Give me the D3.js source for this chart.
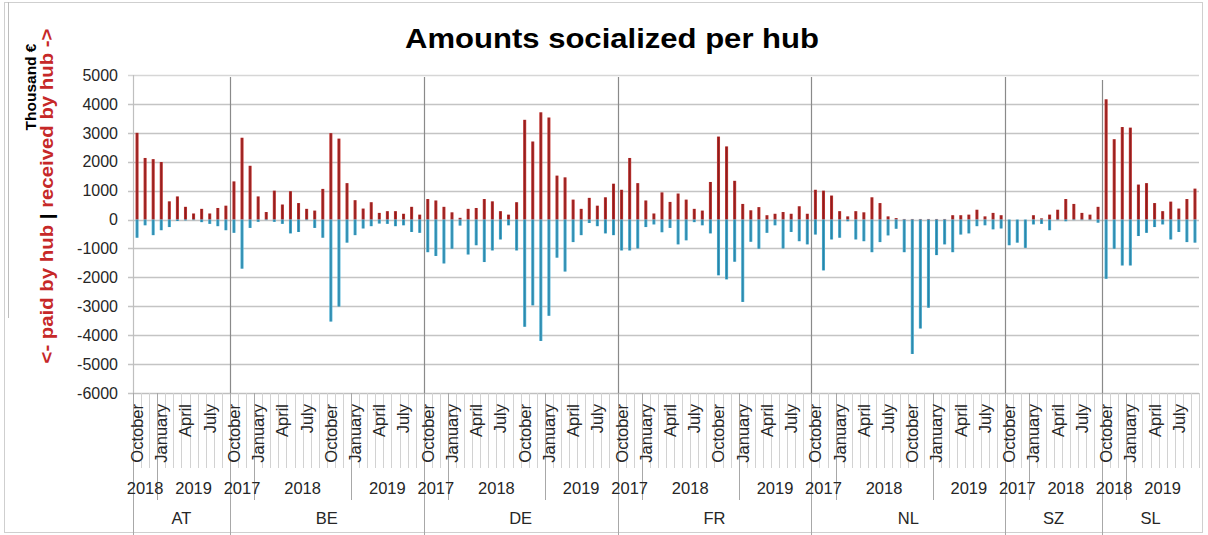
<!DOCTYPE html>
<html><head><meta charset="utf-8">
<script src="https://cdn.jsdelivr.net/npm/d3@7"></script>
<style>
body{margin:0;background:#fff;}
svg{display:block;font-family:"Liberation Sans",Arial,sans-serif;}
</style>
</head><body><svg id="chart" width="1208" height="535"></svg>
<script>
// ---------- DATA ----------
const hubs = ["AT","BE","DE","FR","NL","SZ","SL"];
const hubMonthCount = [12,24,24,24,24,12,12];
const hubStartYear = [2018,2017,2017,2017,2017,2017,2018];
const hubStartMonth = 9; // every hub starts in October
const monthNames = ["January","February","March","April","May","June","July","August","September","October","November","December"];
const monthLabelEvery = 3;
const yTicks = [5000,4000,3000,2000,1000,0,-1000,-2000,-3000,-4000,-5000,-6000];

// received by hub (positive), thousand €
const receivedAT = [3000,2130,2090,1990,630,800,440,210,370,210,400,480];
const receivedBE = [1320,2830,1860,800,260,1000,520,980,570,370,310,1060,2990,2800,1260,670,380,600,230,290,290,200,440,170];
const receivedDE = [710,660,440,250,60,370,400,710,630,290,170,600,3450,2700,3710,3530,1520,1460,690,370,750,480,770,1240];
const receivedFR = [1030,2130,1260,660,210,940,610,900,690,370,310,1300,2870,2530,1340,540,320,430,150,200,260,200,460,200];
const receivedNL = [1030,1000,830,290,110,290,250,770,570,110,50,20,20,20,20,20,20,150,150,170,340,110,230,150];
const receivedSZ = [0,0,0,150,40,170,340,710,540,230,170,440];
const receivedSL = [4160,2780,3200,3180,1210,1260,570,290,620,380,710,1070];

// paid by hub (negative), thousand €
const paidAT = [-630,-200,-540,-370,-260,-50,-30,-20,-90,-150,-230,-370];
const paidBE = [-460,-1700,-290,-80,-20,-80,-150,-480,-430,-20,-290,-630,-3530,-3010,-800,-540,-310,-230,-140,-150,-230,-200,-430,-460];
const paidDE = [-1130,-1260,-1520,-1010,-210,-1210,-890,-1470,-1070,-690,-200,-1070,-3710,-2970,-4200,-3330,-1320,-1800,-780,-540,-120,-230,-480,-540];
const paidFR = [-1070,-1070,-1000,-260,-170,-440,-290,-860,-720,-90,-200,-480,-1930,-2070,-1460,-2850,-770,-1010,-460,-200,-1000,-430,-750,-860];
const paidNL = [-520,-1760,-690,-630,-60,-690,-750,-1130,-780,-550,-320,-1130,-4650,-3770,-3050,-1230,-860,-1130,-520,-480,-230,-200,-340,-310];
const paidSZ = [-890,-800,-980,-170,-150,-370,-20,-60,-20,-20,-20,-110];
const paidSL = [-2050,-1010,-1590,-1590,-570,-460,-260,-170,-690,-430,-780,-800];

const receivedByHub = [receivedAT,receivedBE,receivedDE,receivedFR,receivedNL,receivedSZ,receivedSL];
const paidByHub = [paidAT,paidBE,paidDE,paidFR,paidNL,paidSZ,paidSL];

// ---------- BUILD ROWS ----------
const rows = [];
hubs.forEach((h, hi) => {
  for (let i = 0; i < hubMonthCount[hi]; i++) {
    const m = (hubStartMonth + i) % 12;
    const yr = hubStartYear[hi] + Math.floor((hubStartMonth + i) / 12);
    rows.push({id: h + "-" + i, hub: h, hubIndex: hi, idx: i, month: m, year: yr,
               received: receivedByHub[hi][i], paid: paidByHub[hi][i]});
  }
});
rows.forEach((r, k) => r.g = k);

// ---------- LAYOUT ----------
const plotLeft = 133, plotRight = 1199, plotTop = 75, plotBottom = 393;
const svg = d3.select("#chart");

const defs = svg.append("defs");
function grad(id, edge, mid) {
  const g = defs.append("linearGradient").attr("id", id).attr("x1", 0).attr("x2", 1).attr("y1", 0).attr("y2", 0);
  g.append("stop").attr("offset", "0%").attr("stop-color", edge);
  g.append("stop").attr("offset", "50%").attr("stop-color", mid);
  g.append("stop").attr("offset", "100%").attr("stop-color", edge);
}
grad("redGrad", "#C93A36", "#8C1C1C");
grad("blueGrad", "#4FB3D6", "#2A83A6");

const x = d3.scaleBand().domain(rows.map(r => r.id)).range([plotLeft, plotRight]).padding(0);
const y = d3.scaleLinear().domain([-6000, 5000]).range([plotBottom, plotTop]);
const barW = x.bandwidth() * 0.38;

// frame
svg.append("rect").attr("x", 4.5).attr("y", 2.5).attr("width", 1198).attr("height", 530)
  .attr("fill", "none").attr("stroke", "#CFCFCF");
svg.append("line").attr("x1", 8.5).attr("x2", 8.5).attr("y1", 2).attr("y2", 318)
  .attr("stroke", "#BDBDBD");

// title
svg.append("text").attr("x", 612).attr("y", 48).attr("text-anchor", "middle")
  .attr("font-size", 28).attr("font-weight", "bold").attr("fill", "#000")
  .attr("textLength", 414).attr("lengthAdjust", "spacingAndGlyphs")
  .text("Amounts socialized per hub");

// gridlines
svg.append("g").selectAll("line").data(yTicks).join("line")
  .attr("x1", plotLeft - 5).attr("x2", plotRight)
  .attr("y1", d => Math.round(y(d)) + 0.5).attr("y2", d => Math.round(y(d)) + 0.5)
  .attr("stroke", d => d === 5000 ? "#D6D6D6" : "#C4C4C4").attr("stroke-width", 1.4);

// y axis line
svg.append("line").attr("x1", plotLeft + 0.5).attr("x2", plotLeft + 0.5).attr("y1", plotTop).attr("y2", plotBottom)
  .attr("stroke", "#BFBFBF").attr("stroke-width", 1.2);

// y tick labels
svg.append("g").selectAll("text").data(yTicks).join("text")
  .attr("x", 118).attr("y", d => y(d)).attr("dy", "0.36em").attr("text-anchor", "end")
  .attr("font-size", 16).attr("fill", "#262626").text(d => d);

// bars received
svg.append("g").selectAll("rect").data(rows).join("rect")
  .attr("x", d => x(d.id) + (x.bandwidth() - barW) / 2).attr("width", barW)
  .attr("y", d => y(d.received)).attr("height", d => y(0) - y(d.received))
  .attr("fill", "url(#redGrad)");
// bars paid
svg.append("g").selectAll("rect").data(rows).join("rect")
  .attr("x", d => x(d.id) + (x.bandwidth() - barW) / 2).attr("width", barW)
  .attr("y", y(0)).attr("height", d => y(d.paid) - y(0))
  .attr("fill", "url(#blueGrad)");

// hub separator lines in plot
const hubFirst = rows.filter(r => r.idx === 0);
svg.append("g").selectAll("line").data(hubFirst.slice(1)).join("line")
  .attr("x1", d => Math.round(x(d.id)) + 0.5).attr("x2", d => Math.round(x(d.id)) + 0.5)
  .attr("y1", d => d.hub === "SL" ? 80 : 77).attr("y2", plotBottom)
  .attr("stroke", "#8A8A8A").attr("stroke-width", 1.2);

// x axis line
svg.append("line").attr("x1", plotLeft).attr("x2", plotRight).attr("y1", plotBottom + 0.5).attr("y2", plotBottom + 0.5)
  .attr("stroke", "#BFBFBF").attr("stroke-width", 1.2);

// category ticks in label area
const bounds = rows.map(r => x(r.id)).concat([plotRight]);
svg.append("g").selectAll("line").data(bounds).join("line")
  .attr("x1", d => Math.round(d) + 0.5).attr("x2", d => Math.round(d) + 0.5)
  .attr("y1", plotBottom).attr("y2", 468)
  .attr("stroke", "#D2D2D2").attr("stroke-width", 1);

// year boundaries (January inside a hub)
const yearStarts = rows.filter(r => r.month === 0 && r.idx > 0);
svg.append("g").selectAll("line").data(yearStarts).join("line")
  .attr("x1", d => Math.round(x(d.id)) + 0.5).attr("x2", d => Math.round(x(d.id)) + 0.5)
  .attr("y1", plotBottom).attr("y2", 500)
  .attr("stroke", "#A8A8A8").attr("stroke-width", 1);

// hub boundaries
svg.append("g").selectAll("line").data(hubFirst).join("line")
  .attr("x1", d => Math.round(x(d.id)) + 0.5).attr("x2", d => Math.round(x(d.id)) + 0.5)
  .attr("y1", plotBottom).attr("y2", 535)
  .attr("stroke", "#A8A8A8").attr("stroke-width", 1);

// month labels
svg.append("g").selectAll("text").data(rows.filter(r => r.g % monthLabelEvery === 0)).join("text")
  .attr("transform", d => `translate(${x(d.id) + x.bandwidth() / 2},404) rotate(-90)`)
  .attr("text-anchor", "end").attr("dy", "0.36em")
  .attr("font-size", 16.5).attr("fill", "#262626").text(d => monthNames[d.month]);

// year labels
const yearGroups = d3.groups(rows, r => r.hub + "|" + r.year).map(([k, v]) => ({
  year: v[0].year, x0: x(v[0].id), x1: x(v[v.length - 1].id) + x.bandwidth()
}));
svg.append("g").selectAll("text").data(yearGroups).join("text")
  .attr("x", d => (d.x0 + d.x1) / 2).attr("y", 488).attr("dy", "0.36em")
  .attr("text-anchor", "middle").attr("font-size", 16.5).attr("fill", "#262626").text(d => d.year);

// hub labels
const hubGroups = d3.groups(rows, r => r.hub).map(([k, v]) => ({
  hub: k, x0: x(v[0].id), x1: x(v[v.length - 1].id) + x.bandwidth()
}));
svg.append("g").selectAll("text").data(hubGroups).join("text")
  .attr("x", d => (d.x0 + d.x1) / 2).attr("y", 518).attr("dy", "0.36em")
  .attr("text-anchor", "middle").attr("font-size", 16.5).attr("fill", "#262626").text(d => d.hub);

// y axis titles
svg.append("text").attr("transform", "translate(36,87) rotate(-90)").attr("text-anchor", "middle")
  .attr("font-size", 15.5).attr("font-weight", "bold").attr("fill", "#000").text("Thousand €");
const t2 = svg.append("text").attr("transform", "translate(53,196) rotate(-90)").attr("text-anchor", "middle")
  .attr("font-size", 18).attr("font-weight", "bold")
  .attr("textLength", 335).attr("lengthAdjust", "spacingAndGlyphs");
t2.append("tspan").attr("fill", "#C62828").text("<- paid by hub ");
t2.append("tspan").attr("fill", "#000").text("| ");
t2.append("tspan").attr("fill", "#C62828").text("received by hub ->");
</script>
</body></html>
